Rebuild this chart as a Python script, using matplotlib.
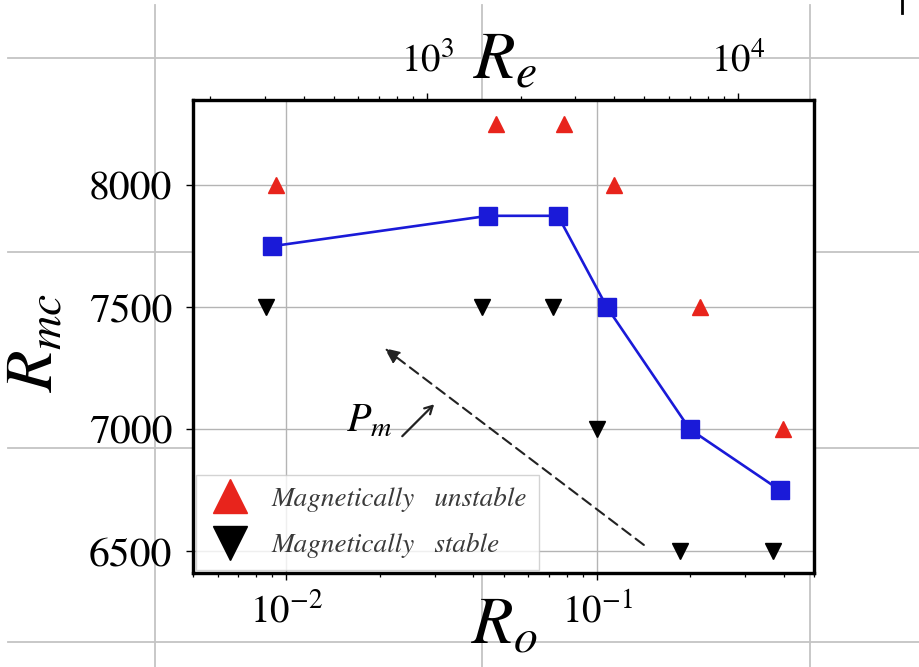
import numpy as np
import matplotlib
matplotlib.use("Agg")
import matplotlib.pyplot as plt
from matplotlib.lines import Line2D

plt.rcParams["font.family"] = "STIXGeneral"
plt.rcParams["mathtext.fontset"] = "stix"

# ----------------------------------------------------------------------------------
# critical magnetic Reynolds number vs Rossby number
ro_crit = [0.00895, 0.0446, 0.0749, 0.1077, 0.199, 0.388]
rm_crit = [7750, 7875, 7875, 7500, 7000, 6750]

ro_unstable = [0.00922, 0.0473, 0.0783, 0.1134, 0.214, 0.396]
rm_unstable = [8000, 8250, 8250, 8000, 7500, 7000]

ro_stable = [0.00856, 0.0427, 0.0722, 0.100, 0.185, 0.368]
rm_stable = [7500, 7500, 7500, 7000, 6500, 6500]

re_per_ro = 3.52e4          # Re = re_per_ro * Ro (top axis)
yticks = [6500, 7000, 7500, 8000]
labels = ["Magnetically   unstable", "Magnetically   stable"]

# Pm trend arrow (data coords)
pm_tail, pm_head = (0.1416, 6525), (0.0207, 7332)
pm_small_tail, pm_small_head = (0.0236, 6971), (0.0299, 7102)
pm_text_pos = (0.0219, 6990)
# ----------------------------------------------------------------------------------

fig = plt.figure(figsize=(9.2, 6.67), dpi=100)

# faint background grid around the figure
bg = fig.add_axes([0, 0, 1, 1], zorder=-10)
bg.set_xlim(0, 920)
bg.set_ylim(667, 0)
bg.axis("off")
for xv in [155, 482, 810]:
    bg.axvline(xv, color="#c4c4c4", lw=1.3, ymax=1 - 5 / 667)
for yv in [58, 252, 448, 642]:
    bg.axhline(yv, color="#c4c4c4", lw=1.3, xmin=8 / 920)
fig.add_artist(Line2D([902 / 920, 902 / 920], [1 - 13 / 667, 1.0], color="k", lw=2))

ax = fig.add_axes([193 / 920, 94 / 667, 621 / 920, 473 / 667])
ax.set_xscale("log")
ax.set_xlim(0.005, 0.5)
ax.set_ylim(6410, 8350)
ax.set_yticks(yticks)
ax.grid(True, which="major", color="#b4b4b4", lw=1.0)
ax.set_axisbelow(True)

ax.plot(ro_crit, rm_crit, "-s", color="#1a1ad8", lw=1.9, ms=13, mec="#1a1ad8", zorder=3)
ax.plot(ro_unstable, rm_unstable, "^", color="#e8241c", ms=12, ls="none",
        label=labels[0], zorder=4)
ax.plot(ro_stable, rm_stable, "v", color="black", ms=12, ls="none",
        label=labels[1], zorder=4)

ax.annotate("", xy=pm_head, xytext=pm_tail,
            arrowprops=dict(arrowstyle="-|>,head_length=0.9,head_width=0.4",
                            ls=(0, (5, 3)), color="#222222", lw=1.5,
                            shrinkA=0, shrinkB=0))
ax.annotate("", xy=pm_small_head, xytext=pm_small_tail,
            arrowprops=dict(arrowstyle="->,head_length=0.55,head_width=0.3",
                            color="#222222", lw=1.6, shrinkA=0, shrinkB=0))
ax.text(*pm_text_pos, "$P_m$", fontsize=29, ha="right", va="baseline")

for side in ax.spines.values():
    side.set_linewidth(2.3)
ax.tick_params(which="major", direction="out", length=5, width=1, labelsize=28, pad=9)
ax.tick_params(axis="y", labelsize=30, pad=10)
ax.tick_params(which="minor", direction="out", length=3, width=0.9)

top = ax.twiny()
top.set_xscale("log")
top.set_xlim(0.005 * re_per_ro, 0.5 * re_per_ro)
top.tick_params(which="major", direction="out", length=5, width=1, labelsize=28, pad=10)
top.tick_params(which="minor", direction="out", length=3, width=0.9)
for side in top.spines.values():
    side.set_linewidth(2.3)

ax.text(0.502, 1.045, "$R_e$", transform=ax.transAxes, fontsize=49,
        ha="center", va="baseline")
ax.text(0.502, -0.148, "$R_o$", transform=ax.transAxes, fontsize=49,
        ha="center", va="baseline")
ax.text(-0.251, 0.488, "$R_{mc}$", transform=ax.transAxes, fontsize=49,
        rotation=90, ha="center", va="center")

leg = ax.legend(loc="lower left", borderaxespad=0.1, markerscale=2.0,
                prop={"family": "STIXGeneral", "style": "italic", "size": 19.5},
                fancybox=False, edgecolor="#c8c8c8", framealpha=0.8,
                labelspacing=0.78, handlelength=1.6, handletextpad=0.75,
                borderpad=0.45)
for t in leg.get_texts():
    t.set_color("#3a3a3a")

fig.savefig("out.png", dpi=100)
